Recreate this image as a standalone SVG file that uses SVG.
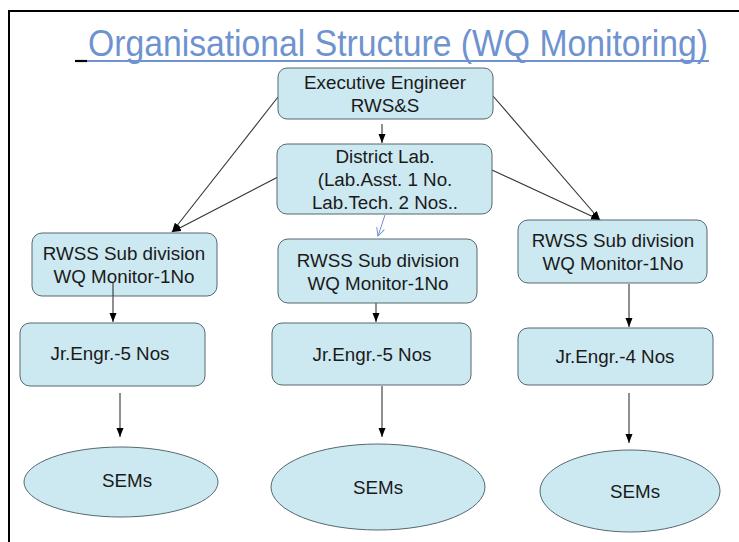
<svg xmlns="http://www.w3.org/2000/svg" width="739" height="542" viewBox="0 0 739 542">
<style>
.box{fill:#cce8f1;stroke:#55696e;stroke-width:1}
.t{font-family:"Liberation Sans",Arial,sans-serif;font-size:18.8px;fill:#1a1a1a;text-anchor:middle}
.c{stroke:#333;stroke-width:1.1;fill:none;marker-end:url(#ah)}
</style>
<defs>
<marker id="ah" markerUnits="userSpaceOnUse" markerWidth="10" markerHeight="10" viewBox="0 0 10 10" refX="9" refY="5" orient="auto">
<path d="M0,1.5 L9,5 L0,8.5 Z" fill="#000"/>
</marker>
<marker id="ab" markerUnits="userSpaceOnUse" markerWidth="12" markerHeight="12" viewBox="0 0 12 12" refX="10" refY="6" orient="auto">
<path d="M2,2 L10,6 L2,10" fill="none" stroke="#6f93d0" stroke-width="1"/>
</marker>
</defs>
<rect width="739" height="542" fill="#fff"/>
<path d="M9,542 V11 H739" fill="none" stroke="#000" stroke-width="2"/>
<g id="title">
<line x1="75" y1="61" x2="87" y2="61" stroke="#000" stroke-width="2.2"/>
<line x1="87" y1="61" x2="709" y2="61" stroke="#6f93d0" stroke-width="1.8"/>
<text x="88" y="56" font-family="'Liberation Sans',Arial,sans-serif" font-size="37" fill="#6f93d0" textLength="620" lengthAdjust="spacingAndGlyphs">Organisational Structure (WQ Monitoring)</text>
</g>
<g id="connectors">
<line class="c" x1="382" y1="124" x2="382" y2="143"/>
<line class="c" x1="278" y1="97" x2="172" y2="232"/>
<line class="c" x1="278" y1="177" x2="172" y2="232"/>
<line class="c" x1="493" y1="96" x2="600" y2="220"/>
<line class="c" x1="492" y1="170" x2="600" y2="220"/>
<line x1="385" y1="215" x2="378" y2="236" stroke="#6f93d0" stroke-width="1" marker-end="url(#ab)"/>
<line class="c" x1="113" y1="283" x2="113" y2="322"/>
<line class="c" x1="376" y1="303" x2="376" y2="322"/>
<line class="c" x1="629" y1="284" x2="629" y2="327"/>
<line class="c" x1="120" y1="393" x2="120" y2="437"/>
<line class="c" x1="382" y1="386" x2="382" y2="437"/>
<line class="c" x1="629" y1="393" x2="629" y2="443"/>
</g>
<g id="ee">
<rect class="box" x="278" y="68" width="215" height="51" rx="9"/>
<text class="t" x="385" y="89">Executive Engineer</text>
<text class="t" x="385" y="112">RWS&amp;S</text>
</g>
<g id="lab">
<rect class="box" x="277" y="144" width="215" height="70" rx="10"/>
<text class="t" x="385" y="163">District Lab.</text>
<text class="t" x="385" y="186">(Lab.Asst. 1 No.</text>
<text class="t" x="385" y="209">Lab.Tech. 2 Nos..</text>
</g>
<g id="sub1">
<rect class="box" x="32" y="233" width="185" height="63" rx="10"/>
<text class="t" x="124" y="260">RWSS Sub division</text>
<text class="t" x="124" y="283">WQ Monitor-1No</text>
</g>
<line class="c" x1="113" y1="283" x2="113" y2="296" style="marker-end:none"/>
<g id="sub2">
<rect class="box" x="278" y="239" width="199" height="64" rx="10"/>
<text class="t" x="378" y="267">RWSS Sub division</text>
<text class="t" x="378" y="290">WQ Monitor-1No</text>
</g>
<g id="sub3">
<rect class="box" x="518" y="220" width="189" height="63" rx="10"/>
<text class="t" x="613" y="247">RWSS Sub division</text>
<text class="t" x="613" y="270">WQ Monitor-1No</text>
</g>
<g id="jr1">
<rect class="box" x="20" y="323" width="185" height="63" rx="10"/>
<text class="t" x="110" y="360">Jr.Engr.-5 Nos</text>
</g>
<g id="jr2">
<rect class="box" x="272" y="323" width="199" height="62" rx="10"/>
<text class="t" x="372" y="361">Jr.Engr.-5 Nos</text>
</g>
<g id="jr3">
<rect class="box" x="518" y="328" width="195" height="57" rx="10"/>
<text class="t" x="615" y="363">Jr.Engr.-4 Nos</text>
</g>
<g id="sem1">
<ellipse class="box" cx="121" cy="482" rx="97" ry="35"/>
<text class="t" x="127" y="487">SEMs</text>
</g>
<g id="sem2">
<ellipse class="box" cx="378" cy="487" rx="107" ry="43"/>
<text class="t" x="378" y="494">SEMs</text>
</g>
<g id="sem3">
<ellipse class="box" cx="630" cy="491" rx="90" ry="41"/>
<text class="t" x="635" y="498">SEMs</text>
</g>
</svg>
